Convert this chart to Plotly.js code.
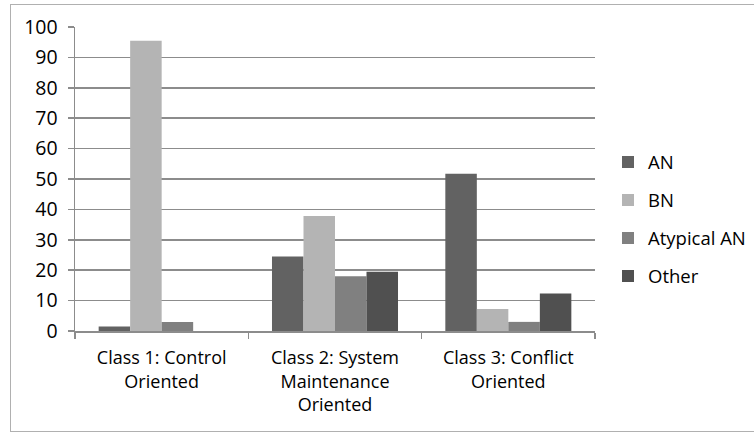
<!DOCTYPE html>
<html>
<head>
<meta charset="utf-8">
<script src="https://cdn.plot.ly/plotly-3.0.1.min.js"></script>
<style>
  html, body { margin: 0; padding: 0; background: #fff; }
  #wrap { position: relative; width: 754px; height: 434px; overflow: hidden; }
  #frame { position: absolute; left: 10px; top: 4px; width: 760px; height: 428px; border: 1px solid #b0b0b0; box-sizing: border-box; pointer-events: none; }
  #chart { position: absolute; left: 0; top: 0; width: 754px; height: 434px; }
</style>
</head>
<body>
<div id="wrap">
  <div id="chart"></div>
  <div id="frame"></div>
</div>
<script>
const categories = [
  "Class 1: Control<br>Oriented",
  "Class 2: System<br>Maintenance<br>Oriented",
  "Class 3: Conflict<br>Oriented"
];
const seriesNames = ["AN", "BN", "Atypical AN", "Other"];
const valuesAN = [1.5, 24.5, 51.7];
const valuesBN = [95.5, 37.8, 7.2];
const valuesAtypicalAN = [3.0, 18.0, 3.0];
const valuesOther = [0, 19.5, 12.3];
const yTicks = [0, 10, 20, 30, 40, 50, 60, 70, 80, 90, 100];

const colors = ["#626262", "#b4b4b4", "#808080", "#505050"];
const allValues = [valuesAN, valuesBN, valuesAtypicalAN, valuesOther];

const fontFamily = "'Open Sans', 'Noto Sans', sans-serif";

const traces = seriesNames.map((name, i) => ({
  type: "bar",
  name: name,
  x: categories,
  y: allValues[i],
  marker: { color: colors[i], line: { width: 0 } },
  legendgroup: "g" + i,
  hoverinfo: "x+y+name"
}));

const layout = {
  width: 754,
  height: 434,
  margin: { l: 75, r: 159, t: 27, b: 103, pad: 0, autoexpand: false },
  paper_bgcolor: "rgba(0,0,0,0)",
  plot_bgcolor: "#fff",
  barmode: "group",
  bargap: 0.273,
  bargroupgap: 0,
  font: { family: fontFamily, size: 18, color: "#000" },
  xaxis: {
    type: "category",
    tickson: "boundaries",
    ticks: "outside",
    ticklen: 6,
    tickcolor: "#8c8c8c",
    tickwidth: 1.5,
    showline: true,
    linecolor: "#8c8c8c",
    linewidth: 1.5,
    showgrid: false,
    automargin: false,
    tickfont: { family: fontFamily, size: 18, color: "#000" },
    ticklabelstandoff: 10
  },
  yaxis: {
    range: [0, 100],
    tickvals: yTicks,
    ticktext: yTicks.map(String),
    ticks: "outside",
    ticklen: 6,
    tickcolor: "#8c8c8c",
    tickwidth: 1.5,
    showline: true,
    linecolor: "#8c8c8c",
    linewidth: 1.5,
    showgrid: true,
    gridcolor: "#8c8c8c",
    gridwidth: 1.5,
    zeroline: false,
    automargin: false,
    tickfont: { family: fontFamily, size: 19.5, color: "#000" },
    ticklabelstandoff: 6
  },
  showlegend: true,
  legend: {
    x: 1.025,
    xanchor: "left",
    y: 0.617,
    yanchor: "top",
    traceorder: "grouped",
    tracegroupgap: 11,
    font: { family: fontFamily, size: 18.5, color: "#000" },
    bgcolor: "rgba(0,0,0,0)",
    borderwidth: 0
  }
};

Plotly.newPlot("chart", traces, layout, { displayModeBar: false, staticPlot: true });
</script>
</body>
</html>
